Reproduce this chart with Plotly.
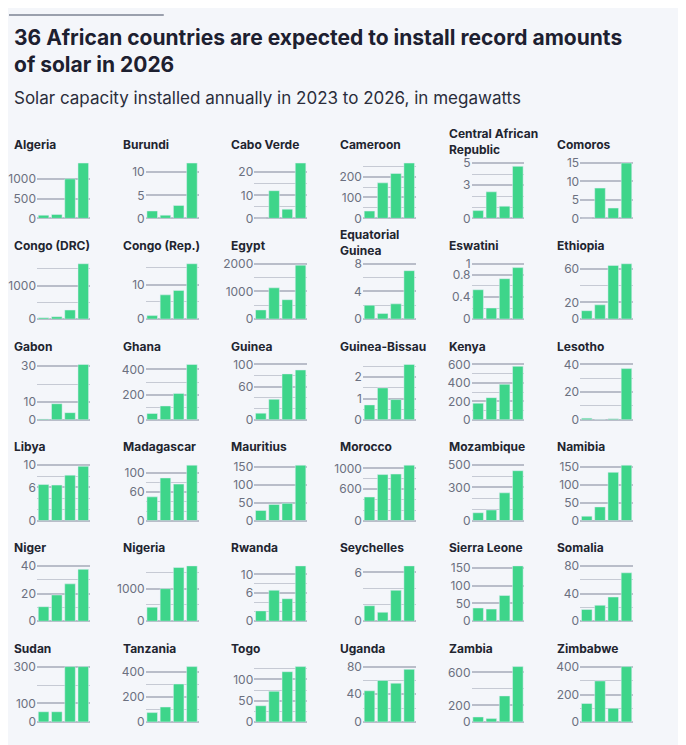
import plotly.graph_objects as go

years = ["2023", "2024", "2025", "2026"]

countries = ["Algeria", "Burundi", "Cabo Verde", "Cameroon", "Central African<br>Republic", "Comoros",
             "Congo (DRC)", "Congo (Rep.)", "Egypt", "Equatorial<br>Guinea", "Eswatini", "Ethiopia",
             "Gabon", "Ghana", "Guinea", "Guinea-Bissau", "Kenya", "Lesotho",
             "Libya", "Madagascar", "Mauritius", "Morocco", "Mozambique", "Namibia",
             "Niger", "Nigeria", "Rwanda", "Seychelles", "Sierra Leone", "Somalia",
             "Sudan", "Tanzania", "Togo", "Uganda", "Zambia", "Zimbabwe"]

values = [
    [80, 100, 1000, 1400], [1.6, 0.7, 2.8, 12], [0, 12, 4, 24], [35, 170, 215, 265], [0.7, 2.4, 1.1, 4.7], [0, 8.2, 2.8, 15],
    [40, 70, 270, 1650], [1, 7, 8.3, 16], [330, 1130, 700, 1950], [2, 0.8, 2.2, 7], [0.53, 0.2, 0.73, 0.93], [10, 17, 64, 66],
    [0.5, 9, 4, 31], [50, 110, 210, 440], [12, 37, 83, 90], [0.7, 1.5, 0.95, 2.6], [180, 240, 385, 580], [1.2, 0.3, 0.8, 37],
    [6.5, 6.4, 8.2, 9.8], [50, 90, 77, 117], [28, 45, 48, 155], [450, 880, 890, 1060], [70, 95, 250, 450], [12, 38, 135, 155],
    [10.5, 19, 27, 37.5], [430, 1000, 1650, 1700], [2.2, 6.6, 4.8, 11.8], [1.9, 1.1, 3.8, 6.8], [37, 34, 72, 155], [17, 23, 35, 70],
    [55, 55, 300, 300], [75, 120, 305, 445], [38, 72, 118, 130], [45, 60, 56, 76], [60, 40, 315, 670], [135, 300, 100, 405],
]

tick_labels = [
    [0, 500, 1000], [0, 5, 10], [0, 10, 20], [0, 100, 200], [0, 3, 5], [0, 5, 10, 15],
    [0, 1000], [0, 10], [0, 1000, 2000], [0, 4, 8], [0, 0.4, 0.8, 1], [0, 20, 60],
    [0, 10, 30], [0, 200, 400], [0, 60, 100], [0, 1, 2], [0, 200, 400, 600], [0, 20, 40],
    [0, 6, 10], [0, 60, 100], [0, 50, 100, 150], [0, 600, 1000], [0, 300, 500], [0, 50, 100, 150],
    [0, 20, 40], [0, 1000], [0, 6, 10], [0, 6], [0, 50, 100, 150], [0, 40, 80],
    [0, 100, 300], [0, 200, 400], [0, 50, 100], [0, 40, 80], [0, 200, 600], [0, 200, 400],
]

grid_step = [500, 5, 5, 50, 1, 5, 500, 5, 500, 2, 0.2, 20,
             10, 100, 20, 0.5, 100, 10, 2, 20, 50, 200, 100, 50,
             10, 500, 2, 2, 50, 20, 100, 100, 25, 20, 200, 100]

W, H = 686, 745
OX, OY = 10, 10  # page offset added by the browser
fig = go.Figure()
layout = {}
annotations = []
for i, name in enumerate(countries):
    r, c = divmod(i, 6)
    left = 13 + c * 108.8 - OX
    ty = 143 + r * 102.5 - OY
    ax = "" if i == 0 else str(i + 1)
    vals = values[i]
    top = max(max(vals), max(tick_labels[i])) * 1.03
    fig.add_trace(go.Bar(x=years, y=vals, marker_color="#3ed58a", xaxis="x" + ax, yaxis="y" + ax,
                         showlegend=False, hoverinfo="y"))
    layout["xaxis" + ax] = dict(domain=[(left + 25) / W, (left + 78) / W], showticklabels=False,
                                showgrid=False, zeroline=False, fixedrange=True, anchor="y" + ax)
    layout["yaxis" + ax] = dict(domain=[1 - (ty + 75) / H, 1 - (ty + 17) / H], range=[0, top],
                                tickvals=tick_labels[i], showgrid=True, gridcolor="#b9bdc9", gridwidth=1.5,
                                zeroline=True, zerolinecolor="#b9bdc9", zerolinewidth=1.5,
                                minor=dict(dtick=grid_step[i], tick0=0, showgrid=True, gridcolor="#c6cad4", gridwidth=1.2),
                                tickfont=dict(size=12, color="#6b7080"), ticks="", fixedrange=True,
                                anchor="x" + ax)
    ann = dict(text="<b>" + name + "</b>", x=left / W, y=1 - ty / H, xref="paper", yref="paper",
               xanchor="left", yanchor="middle", showarrow=False, align="left",
               font=dict(size=12, color="#222530"))
    if "<br>" in name:
        ann["y"] = 1 - (ty - 21) / H
        ann["yanchor"] = "top"
    annotations.append(ann)

annotations.append(dict(text="<b>36 African countries are expected to install record amounts<br>of solar in 2026</b>",
                        x=(13 - OX) / W, y=1 - (19 - OY) / H, xref="paper", yref="paper", xanchor="left", yanchor="top",
                        showarrow=False, align="left", font=dict(size=21, color="#1d2030")))
annotations.append(dict(text="Solar capacity installed annually in 2023 to 2026, in megawatts",
                        x=(13 - OX) / W, y=1 - (83 - OY) / H, xref="paper", yref="paper", xanchor="left", yanchor="top",
                        showarrow=False, align="left", font=dict(size=17, color="#2a2d3a")))

fig.update_layout(**layout)
fig.update_layout(width=W, height=H, margin=dict(l=0, r=0, t=0, b=0), bargap=0.2,
                  paper_bgcolor="#f4f6fa", plot_bgcolor="#f4f6fa", font=dict(family="Inter, Roboto, sans-serif"),
                  annotations=annotations,
                  shapes=[dict(type="line", xref="paper", yref="paper", x0=0, x1=155 / W,
                               y0=1 - 1 / H, y1=1 - 1 / H, line=dict(color="#9aa0ad", width=2))])
fig.write_html("out.html")
